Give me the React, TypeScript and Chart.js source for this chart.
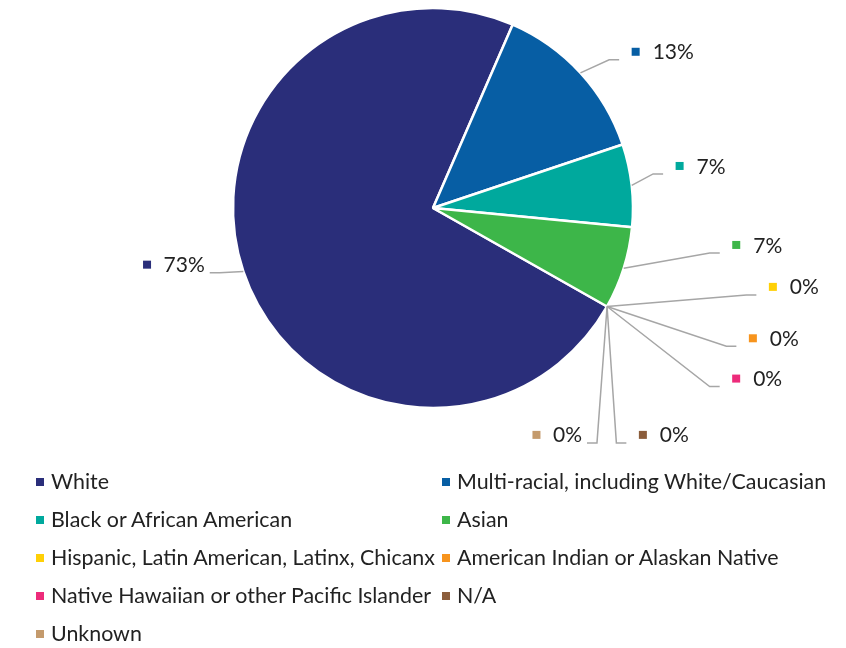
import React, { useEffect, useRef } from "react";
import { Chart, registerables } from "chart.js";

Chart.register(...registerables);

const categories = [
  "White",
  "Multi-racial, including White/Caucasian",
  "Black or African American",
  "Asian",
  "Hispanic, Latin American, Latinx, Chicanx",
  "American Indian or Alaskan Native",
  "Native Hawaiian or other Pacific Islander",
  "N/A",
  "Unknown",
];
const counts = [11, 2, 1, 1, 0, 0, 0, 0, 0];
const colors = [
  "#2a2e7a",
  "#075ea4",
  "#00a99d",
  "#3db649",
  "#ffd006",
  "#f7941d",
  "#ed2b7a",
  "#8b5d3b",
  "#c49a6c",
];

const total = counts.reduce((a, b) => a + b, 0);
const percentLabels = counts.map((v) => `${Math.round((v / total) * 100)}%`);

// leader-line elbow offsets (style), relative to the slice's outer edge point
const LEADERS = [
  { dx: -23.6, dy: 1.2, side: -1 },
  { dx: 28.7, dy: -13.1, side: 1 },
  { dx: 21.4, dy: -11.4, side: 1 },
  { dx: 86, dy: -15.2, side: 1 },
  { dx: 139.3, dy: -11.6, side: 1 },
  { dx: 119.3, dy: 39.8, side: 1 },
  { dx: 102.6, dy: 80.1, side: 1 },
  { dx: 9.3, dy: 136.4, side: 1 },
  { dx: -10.1, dy: 136.4, side: -1 },
];

const FONT = '21px Lato, "Open Sans", sans-serif';
const LEGEND_FONT = '21.4px Lato, "Open Sans", sans-serif';
const TEXT_COLOR = "#222222";

const labelPlugin = {
  id: "leaderLabels",
  afterDraw(chart: any) {
    const ctx = chart.ctx;
    const meta = chart.getDatasetMeta(0);
    ctx.save();
    ctx.font = FONT;
    meta.data.forEach((arc: any, i: number) => {
      const p = arc.getProps(["x", "y", "startAngle", "endAngle", "outerRadius"], true);
      const mid = (p.startAngle + p.endAngle) / 2;
      const px = p.x + Math.cos(mid) * p.outerRadius;
      const py = p.y + Math.sin(mid) * p.outerRadius;
      const L = LEADERS[i];
      const ex = px + L.dx;
      const ey = py + L.dy;
      const hx = ex + L.side * 10;
      ctx.strokeStyle = "#a6a6a6";
      ctx.lineWidth = 1.5;
      ctx.beginPath();
      ctx.moveTo(px, py);
      ctx.lineTo(ex, ey);
      ctx.lineTo(hx, ey);
      ctx.stroke();
      const txt = percentLabels[i];
      const tw = ctx.measureText(txt).width;
      const cy = ey - 8;
      let markerLeft: number;
      let textLeft: number;
      if (L.side > 0) {
        markerLeft = hx + 12.5;
        textLeft = markerLeft + 21;
      } else {
        textLeft = hx - 5 - tw;
        markerLeft = textLeft - 20.5;
      }
      ctx.fillStyle = colors[i];
      ctx.fillRect(markerLeft, cy - 4, 8, 8);
      ctx.fillStyle = TEXT_COLOR;
      ctx.textBaseline = "alphabetic";
      ctx.textAlign = "left";
      ctx.fillText(txt, textLeft, cy + 7.6);
    });
    ctx.restore();
  },
};

export default function App() {
  const ref = useRef<HTMLCanvasElement | null>(null);

  useEffect(() => {
    if (!ref.current) return;
    const chart = new Chart(ref.current, {
      type: "pie",
      data: {
        labels: categories,
        datasets: [
          {
            data: counts,
            backgroundColor: colors,
            borderColor: "#ffffff",
            borderWidth: 2.5,
          },
        ],
      },
      options: {
        animation: false,
        responsive: false,
        rotation: 119.5,
        radius: 200,
        layout: { padding: { left: 233, right: 213, top: 8, bottom: 240 } },
        plugins: {
          legend: { display: false },
          tooltip: { enabled: false },
        },
      } as any,
      plugins: [labelPlugin],
    });
    return () => chart.destroy();
  }, []);

  const rowStart = 481.8;
  const rowGap = 38.05;
  const cols = [36, 442];

  return (
    <div style={{ position: "absolute", left: 0, top: 0, width: 846, height: 648, background: "#fff" }}>
      <canvas ref={ref} width={846} height={648} style={{ position: "absolute", left: 0, top: 0 }} />
      {categories.map((c, i) => {
        const row = Math.floor(i / 2);
        const col = i % 2;
        const cy = rowStart + row * rowGap;
        return (
          <div
            key={c}
            style={{
              position: "absolute",
              left: cols[col],
              top: cy - 10.6,
              height: 20,
              lineHeight: "20px",
              font: LEGEND_FONT,
              color: TEXT_COLOR,
              whiteSpace: "nowrap",
            }}
          >
            <span
              style={{
                position: "absolute",
                left: 0,
                top: 10.6 - 4,
                width: 8,
                height: 8,
                background: colors[i],
              }}
            />
            <span style={{ position: "absolute", left: 15, top: 0, lineHeight: "20px" }}>{c}</span>
          </div>
        );
      })}
    </div>
  );
}
